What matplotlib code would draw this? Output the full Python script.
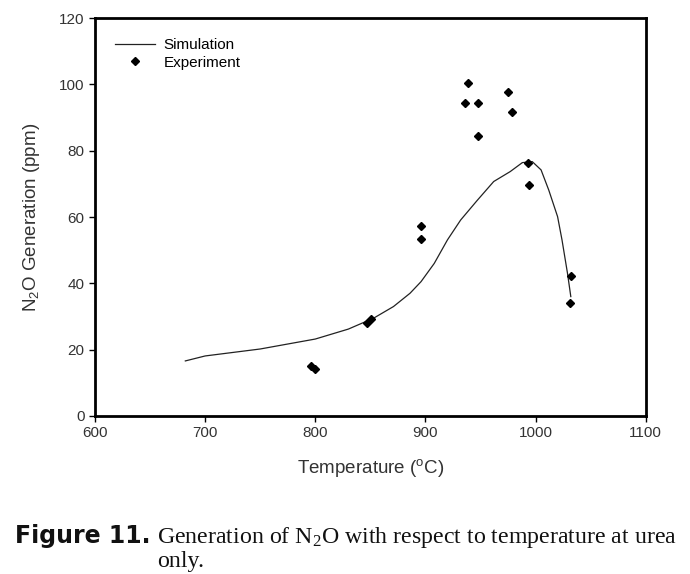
import matplotlib
matplotlib.use('Agg')
import matplotlib.pyplot as plt

# Simulation curve
sim_temp = [682, 700, 750, 800, 830, 853, 871, 886, 896, 908, 920, 932, 947,
            962, 977, 988, 997, 1005, 1012, 1020, 1024, 1029, 1032]
sim_n2o = [16.6, 18.1, 20.2, 23.2, 26.2, 29.5, 33.0, 37.0, 40.5, 46.0, 53.1,
           59.1, 65.0, 70.7, 73.7, 76.4, 76.7, 74.2, 68.1, 60.1, 53.1, 43.0,
           36.0]

# Experimental points
exp_temp = [796, 800, 847, 851, 896, 896, 936, 939, 948, 948, 975, 979,
            993, 994, 1031, 1032]
exp_n2o = [15.2, 14.2, 27.9, 29.2, 57.4, 53.3, 94.5, 100.5, 94.5, 84.5,
           97.6, 91.6, 76.4, 69.7, 34.0, 42.2]

xticks = [600, 700, 800, 900, 1000, 1100]
yticks = [0, 20, 40, 60, 80, 100, 120]

plt.rcParams['font.family'] = ['Liberation Sans', 'DejaVu Sans']

fig = plt.figure(figsize=(6.9, 5.74), dpi=100)
ax = fig.add_axes([0.1377, 0.2753, 0.7981, 0.6933])

ax.plot(sim_temp, sim_n2o, color='#222222', lw=0.9, label='Simulation')
ax.plot(exp_temp, exp_n2o, 'D', color='black', ms=4, label='Experiment')

ax.set_xlim(600, 1100)
ax.set_ylim(0, 120)
ax.set_xticks(xticks)
ax.set_yticks(yticks)
ax.tick_params(direction='out', length=4, width=1, labelsize=11,
               labelcolor='#333333')
for s in ax.spines.values():
    s.set_linewidth(2)

ax.set_xlabel('Temperature ($\\mathregular{^oC}$)', fontsize=13.5,
              color='#333333', labelpad=12)
ax.set_ylabel('N$\\mathregular{_2}$O Generation (ppm)', fontsize=13.5,
              color='#333333', labelpad=12)

ax.legend(loc='upper left', frameon=False, fontsize=11, handlelength=2.6,
          borderaxespad=0.9, labelspacing=0.25, handletextpad=0.6)

fig.text(0.022, 0.054, 'Figure 11.', fontsize=17, fontweight='bold',
         family=['DejaVu Sans'], color='#111111')
fig.text(0.228, 0.054,
         'Generation of N$\\mathregular{_2}$O with respect to temperature at urea',
         fontsize=17.2, family=['Liberation Serif'], color='#111111')
fig.text(0.228, 0.013, 'only.', fontsize=17.2, family=['Liberation Serif'],
         color='#111111')

plt.savefig('out.png', dpi=100, facecolor='white')
